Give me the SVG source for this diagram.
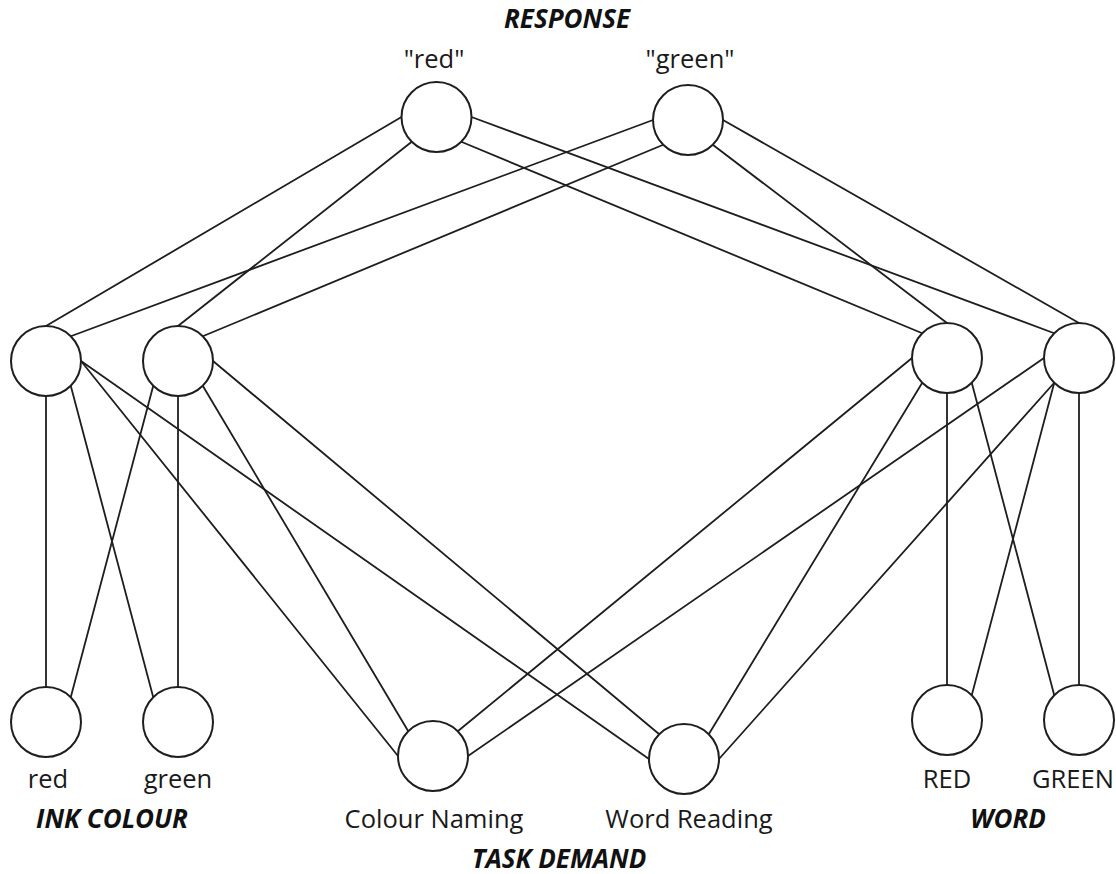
<svg xmlns="http://www.w3.org/2000/svg" width="1116" height="874" viewBox="0 0 1116 874">
  <style>
    .edge { stroke: #1e1e1e; stroke-width: 1.8; fill: none; stroke-linecap: round; }
    .unit { fill: #ffffff; stroke: #1e1e1e; stroke-width: 2; }
    .lbl { font-family: "Open Sans", "Liberation Sans", sans-serif; font-size: 25.5px; fill: #1a1a1a; text-anchor: middle; }
    .hdr { font-family: "Open Sans", "Liberation Sans", sans-serif; font-size: 26px; font-weight: bold; font-style: italic; fill: #111111; text-anchor: middle; }
  </style>
  <rect width="1116" height="874" fill="#ffffff"/>

  <!-- connections between units, endpoints on circle connection points -->
  <g id="connectors">
    <line class="edge" x1="401.5" y1="117" x2="46" y2="326"/>
    <line class="edge" x1="411.75" y1="141.75" x2="178" y2="326"/>
    <line class="edge" x1="653" y1="120" x2="70.75" y2="336.25"/>
    <line class="edge" x1="663.25" y1="144.75" x2="202.75" y2="336.25"/>
    <line class="edge" x1="471.5" y1="117" x2="1054.25" y2="333.25"/>
    <line class="edge" x1="461.25" y1="141.75" x2="922.25" y2="333.25"/>
    <line class="edge" x1="723" y1="120" x2="1079" y2="323"/>
    <line class="edge" x1="712.75" y1="144.75" x2="947" y2="323"/>

    <line class="edge" x1="46" y1="396" x2="46" y2="687"/>
    <line class="edge" x1="70.75" y1="385.75" x2="153.25" y2="697.25"/>
    <line class="edge" x1="153.25" y1="385.75" x2="70.75" y2="697.25"/>
    <line class="edge" x1="178" y1="396" x2="178" y2="687"/>

    <line class="edge" x1="81" y1="361" x2="398" y2="756"/>
    <line class="edge" x1="81" y1="361" x2="649" y2="759"/>
    <line class="edge" x1="213" y1="361" x2="659.25" y2="734.25"/>
    <line class="edge" x1="202.75" y1="385.75" x2="408.25" y2="731.25"/>

    <line class="edge" x1="912" y1="358" x2="457.75" y2="731.25"/>
    <line class="edge" x1="922.25" y1="382.75" x2="708.75" y2="734.25"/>
    <line class="edge" x1="1044" y1="358" x2="468" y2="756"/>
    <line class="edge" x1="1054.25" y1="382.75" x2="719" y2="759"/>

    <line class="edge" x1="947" y1="393" x2="947" y2="685"/>
    <line class="edge" x1="971.75" y1="382.75" x2="1054.25" y2="695.25"/>
    <line class="edge" x1="1054.25" y1="382.75" x2="971.75" y2="695.25"/>
    <line class="edge" x1="1079" y1="393" x2="1079" y2="685"/>
  </g>

  <!-- response layer -->
  <text class="hdr" x="567" y="28">RESPONSE</text>
  <g id="resp-red">
    <circle class="unit" cx="436.5" cy="117" r="35"/>
    <text class="lbl" x="434" y="68">"red"</text>
  </g>
  <g id="resp-green">
    <circle class="unit" cx="688" cy="120" r="35"/>
    <text class="lbl" x="690" y="68">"green"</text>
  </g>

  <!-- hidden layer -->
  <g id="hid-colour-red"><circle class="unit" cx="46" cy="361" r="35"/></g>
  <g id="hid-colour-green"><circle class="unit" cx="178" cy="361" r="35"/></g>
  <g id="hid-word-red"><circle class="unit" cx="947" cy="358" r="35"/></g>
  <g id="hid-word-green"><circle class="unit" cx="1079" cy="358" r="35"/></g>

  <!-- ink colour inputs -->
  <g id="ink-red">
    <circle class="unit" cx="46" cy="722" r="35"/>
    <text class="lbl" x="48" y="788">red</text>
  </g>
  <g id="ink-green">
    <circle class="unit" cx="178" cy="722" r="35"/>
    <text class="lbl" x="178" y="788">green</text>
  </g>
  <text class="hdr" x="112" y="828">INK COLOUR</text>

  <!-- task demand units -->
  <g id="task-colour-naming">
    <circle class="unit" cx="433" cy="756" r="35"/>
    <text class="lbl" x="434" y="828">Colour Naming</text>
  </g>
  <g id="task-word-reading">
    <circle class="unit" cx="684" cy="759" r="35"/>
    <text class="lbl" x="689" y="828">Word Reading</text>
  </g>
  <text class="hdr" x="559" y="868">TASK DEMAND</text>

  <!-- word inputs -->
  <g id="word-red">
    <circle class="unit" cx="947" cy="720" r="35"/>
    <text class="lbl" x="947" y="788">RED</text>
  </g>
  <g id="word-green">
    <circle class="unit" cx="1079" cy="720" r="35"/>
    <text class="lbl" x="1073" y="788">GREEN</text>
  </g>
  <text class="hdr" x="1008" y="828">WORD</text>
</svg>
